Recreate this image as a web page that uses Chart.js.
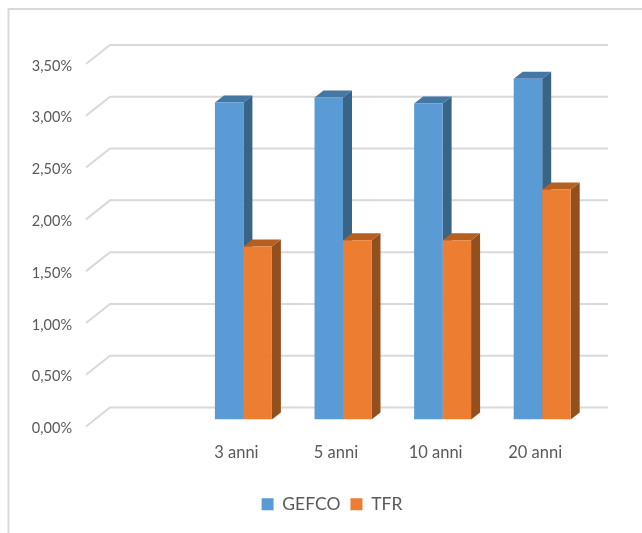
<!DOCTYPE html>
<html>
<head>
<meta charset="utf-8">
<style>body { margin: 0; background: #fff; } canvas { display: block; }</style>
<script src="https://cdn.jsdelivr.net/npm/chart.js@4"></script>
</head>
<body>
<canvas id="chart" width="642" height="533"></canvas>
<script>
// first category is empty in the original sheet
const categories = ["", "3 anni", "5 anni", "10 anni", "20 anni"];
const gefco = [null, 3.06, 3.11, 3.05, 3.29];
const tfr = [null, 1.67, 1.73, 1.73, 2.22];

const colors = {
  GEFCO: { front: "#5B9BD5", side: "#386487", top: "#4577A4" },
  TFR: { front: "#ED7D31", side: "#93501C", top: "#B55F20" },
};

const gridColor = "#D9D9D9";
const textColor = "#595959";
const font = "Lato, Carlito, sans-serif";

// fake 3D depth of the bars and of the back wall, in px
const barDx = 9, barDy = 7;
const wallDx = 16, wallDy = 12;

const polygon = (ctx, points, fill) => {
  ctx.fillStyle = fill;
  ctx.beginPath();
  points.forEach(([x, y], i) => (i ? ctx.lineTo(x, y) : ctx.moveTo(x, y)));
  ctx.closePath();
  ctx.fill();
};

const excel3d = {
  id: "excel3d",
  beforeDatasetsDraw(chart) {
    const { ctx, chartArea, scales } = chart;
    ctx.save();

    // chart frame, only top and left are visible
    ctx.strokeStyle = gridColor;
    ctx.lineWidth = 2;
    ctx.beginPath();
    ctx.moveTo(8.5, 533);
    ctx.lineTo(8.5, 9);
    ctx.lineTo(642, 9);
    ctx.stroke();

    // gridlines on the back wall with the slanted part on the floor side
    scales.y.ticks.forEach((tick) => {
      const y = scales.y.getPixelForValue(tick.value);
      ctx.beginPath();
      ctx.moveTo(chartArea.left - 8, y + 7);
      ctx.lineTo(chartArea.left + wallDx, y - wallDy);
      ctx.lineTo(chartArea.right + wallDx, y - wallDy);
      ctx.stroke();
    });

    // side and top faces, the front is the normal chart.js bar
    chart.data.datasets.forEach((ds, di) => {
      const c = colors[ds.label];
      chart.getDatasetMeta(di).data.forEach((bar, i) => {
        if (ds.data[i] === null) return;
        const l = bar.x - bar.width / 2;
        const r = bar.x + bar.width / 2;
        polygon(ctx, [[r, bar.y], [r + barDx, bar.y - barDy], [r + barDx, bar.base - barDy], [r, bar.base]], c.side);
        polygon(ctx, [[l, bar.y], [l + barDx, bar.y - barDy], [r + barDx, bar.y - barDy], [r, bar.y]], c.top);
      });
    });
    ctx.restore();
  },
};

new Chart(document.getElementById("chart"), {
  type: "bar",
  data: {
    labels: categories,
    datasets: [
      { label: "GEFCO", data: gefco, backgroundColor: colors.GEFCO.front },
      { label: "TFR", data: tfr, backgroundColor: colors.TFR.front },
    ],
  },
  options: {
    responsive: false,
    animation: false,
    categoryPercentage: 0.572,
    barPercentage: 1,
    layout: { padding: { left: 22, right: 0, top: 57, bottom: 10 } },
    scales: {
      x: {
        grid: { display: false },
        border: { display: false },
        ticks: {
          color: textColor,
          font: { family: font, size: 16.5 },
          padding: 15,
          labelOffset: -7,
          maxRotation: 0,
          autoSkip: false,
        },
        afterFit: (scale) => { scale.height = 66; },
      },
      y: {
        min: 0,
        max: 3.5,
        grid: { display: false },
        border: { display: false },
        ticks: {
          stepSize: 0.5,
          color: textColor,
          font: { family: font, size: 14.5 },
          padding: 14,
          labelOffset: 9,
          callback: (v) => v.toFixed(2).replace(".", ",") + "%",
        },
        afterFit: (scale) => { scale.width = 72; },
      },
      // empty axis, only keeps the plot clear of the right edge
      spacer: {
        position: "right",
        grid: { display: false },
        border: { display: false },
        ticks: { display: false },
        afterFit: (scale) => { scale.width = 50; },
      },
    },
    plugins: {
      tooltip: { enabled: false },
      legend: {
        position: "bottom",
        labels: {
          color: textColor,
          font: { family: font, size: 17.5 },
          boxWidth: 12,
          boxHeight: 12,
          padding: 10,
        },
      },
    },
  },
  plugins: [excel3d],
});
</script>
</body>
</html>
